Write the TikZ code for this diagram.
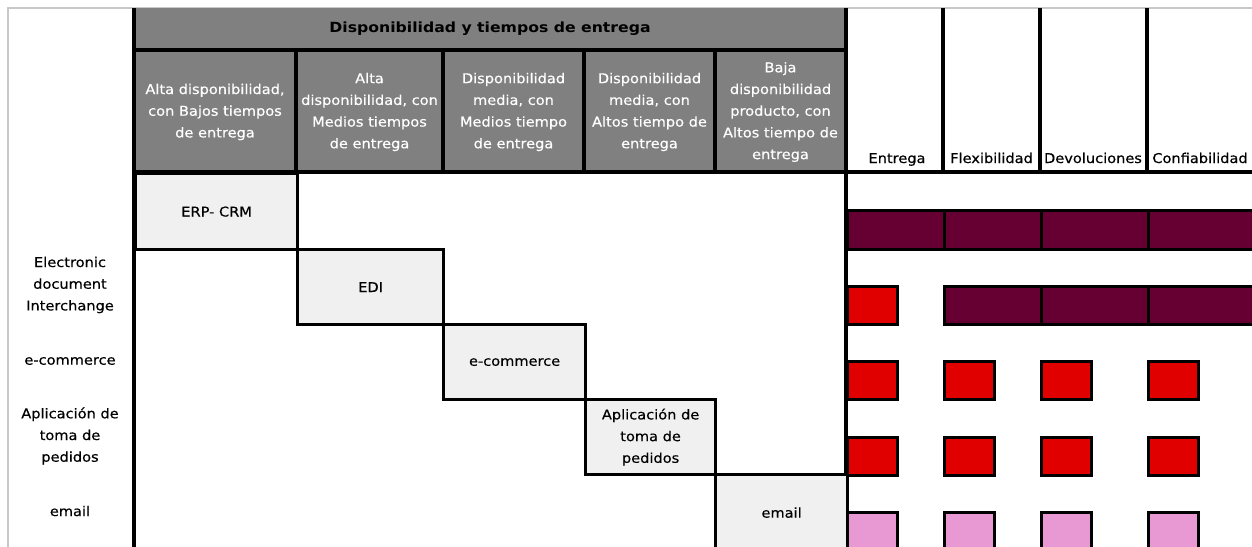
\documentclass[tikz,border=0pt]{standalone}
\usepackage{fontspec}
\setmainfont{DejaVu Sans}[FakeStretch=1.08,FakeBold=0.35]
\newfontfamily\titlefont{DejaVu Sans}[FakeStretch=1.12]
\definecolor{hdrgray}{HTML}{808080}
\definecolor{boxfill}{HTML}{F0F0F0}
\definecolor{frame}{HTML}{C8C8C8}
\definecolor{purp}{HTML}{660033}
\definecolor{redc}{HTML}{E00000}
\definecolor{pinkc}{HTML}{E899D4}
\begin{document}
\begin{tikzpicture}[x=1pt,y=-1pt,line width=3.2pt,
  txt/.style={font=\fontsize{13.5}{21.7}\selectfont, align=center, inner sep=0pt},
  hdrtxt/.style={txt, text=white},
  cellbox/.style={draw=black, fill=boxfill, line width=3.2pt, anchor=north west, inner sep=0pt, font=\fontsize{13.5}{21.7}\selectfont, align=center},
  mark box/.style={draw=black, line width=3.2pt, anchor=north west, inner sep=0pt},
  purpcell/.style={mark box, fill=purp, minimum height=39pt},
  redsq/.style={mark box, fill=redc, minimum width=50pt, minimum height=38pt},
  pinksq/.style={mark box, fill=pinkc, minimum width=50pt, minimum height=38pt}
]
\useasboundingbox (0,0) rectangle (1252,546);
\clip (0,0) rectangle (1252,546);
\fill[white] (0,0) rectangle (1252,546);
% outer light frame
\draw[frame, line width=1.5pt] (8,560) -- (8,8) -- (1260,8);
% header fill
\fill[hdrgray] (134,8) rectangle (846,172);
% header lines
\draw (134,50) -- (846,50);
\draw (296,50) -- (296,172);
\draw (443,50) -- (443,172);
\draw (584,50) -- (584,172);
\draw (715,50) -- (715,172);
\draw (134,8) -- (134,560);
\draw (846,8) -- (846,560);
\draw (943,8) -- (943,172);
\draw (1040,8) -- (1040,172);
\draw (1147,8) -- (1147,172);
\draw (134,172) -- (1260,172);
% header texts
\node[txt, font=\titlefont\bfseries\fontsize{14}{16}\selectfont] (title) at (490,29) {Disponibilidad y tiempos de entrega};
\node[hdrtxt] (h1) at (215,112) {Alta disponibilidad,\\con Bajos tiempos\\de entrega};
\node[hdrtxt] (h2) at (369.5,112) {Alta\\disponibilidad, con\\Medios tiempos\\de entrega};
\node[hdrtxt] (h3) at (513.5,112) {Disponibilidad\\media, con\\Medios tiempo\\de entrega};
\node[hdrtxt] (h4) at (649.5,112) {Disponibilidad\\media, con\\Altos tiempo de\\entrega};
\node[hdrtxt] (h5) at (780.5,112) {Baja\\disponibilidad\\producto, con\\Altos tiempo de\\entrega};
\node[txt, anchor=base] (c1) at (897,163) {Entrega};
\node[txt, anchor=base] (c2) at (991.5,163) {Flexibilidad};
\node[txt, anchor=base] (c3) at (1093,163) {Devoluciones};
\node[txt, anchor=base] (c4) at (1200,163) {Confiabilidad};
% row labels
\node[txt] (l2) at (70,285) {Electronic\\document\\Interchange};
\node[txt] (l3) at (70,361) {e-commerce};
\node[txt] (l4) at (70,436) {Aplicación de\\toma de\\pedidos};
\node[txt] (l5) at (70,511) {email};
% diagonal boxes
\node[cellbox, minimum width=162pt, minimum height=76pt] (erp) at (134,172) {ERP- CRM};
\node[cellbox, minimum width=146pt, minimum height=75pt] (edi) at (296,248) {EDI};
\node[cellbox, minimum width=142pt, minimum height=75pt] (ecom) at (442,323) {e-commerce};
\node[cellbox, minimum width=130pt, minimum height=75pt] (apl) at (584,398) {Aplicación de\\toma de\\pedidos};
\node[cellbox, minimum width=132pt, minimum height=76pt] (eml) at (714,473) {email};
% right matrix
\node[purpcell, minimum width=97pt] (p11) at (846,209) {};
\node[purpcell, minimum width=97pt] (p12) at (943,209) {};
\node[purpcell, minimum width=107pt] (p13) at (1040,209) {};
\node[purpcell, minimum width=110pt] (p14) at (1147,209) {};
\node[redsq] (r21) at (846,285) {};
\node[purpcell, minimum width=97pt, minimum height=38pt] (p22) at (943,285) {};
\node[purpcell, minimum width=107pt, minimum height=38pt] (p23) at (1040,285) {};
\node[purpcell, minimum width=110pt, minimum height=38pt] (p24) at (1147,285) {};
\node[redsq] (r31) at (846,360) {};
\node[redsq] (r32) at (943,360) {};
\node[redsq] (r33) at (1040,360) {};
\node[redsq] (r34) at (1147,360) {};
\node[redsq] (r41) at (846,436) {};
\node[redsq] (r42) at (943,436) {};
\node[redsq] (r43) at (1040,436) {};
\node[redsq] (r44) at (1147,436) {};
\node[pinksq, minimum height=50pt] (k51) at (846,511) {};
\node[pinksq, minimum height=50pt] (k52) at (943,511) {};
\node[pinksq, minimum height=50pt] (k53) at (1040,511) {};
\node[pinksq, minimum height=50pt] (k54) at (1147,511) {};
\end{tikzpicture}
\end{document}
